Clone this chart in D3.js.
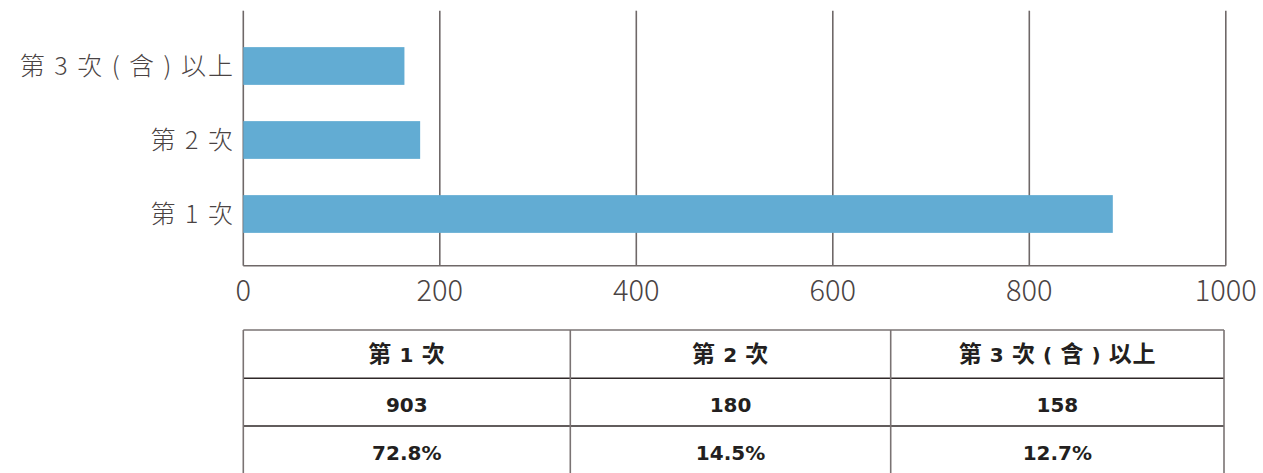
<!DOCTYPE html>
<html>
<head>
<meta charset="utf-8">
<script src="https://cdn.jsdelivr.net/npm/d3@7"></script>
<style>
  html, body { margin: 0; padding: 0; background: #fff; }
  svg { display: block; }
</style>
</head>
<body>
<svg id="chart" width="1263" height="473"></svg>
<script>
// ---- data ----
const categories = ["第 1 次", "第 2 次", "第 3 次 ( 含 ) 以上"];
const barValues = [885, 180, 164];          // bar lengths as drawn
const xTicks = [0, 200, 400, 600, 800, 1000];
const tableHeaders = ["第 1 次", "第 2 次", "第 3 次 ( 含 ) 以上"];
const tableCounts = ["903", "180", "158"];
const tablePercents = ["72.8%", "14.5%", "12.7%"];

// ---- layout ----
const svg = d3.select("#chart");
const axisFont = "'Noto Sans CJK TC', 'Noto Sans CJK SC', 'Noto Sans', sans-serif";
const latinBold = "'DejaVu Sans', 'Liberation Sans', sans-serif";
const cjkBold = "'Noto Sans CJK TC', 'Noto Sans CJK SC', sans-serif";
const textColor = "#4a4343";
const gridColor = "#6f6868";

const x = d3.scaleLinear().domain([0, 1000]).range([243.3, 1225.8]);
const y = d3.scaleBand()
  .domain(categories.slice().reverse())
  .range([29, 251])
  .paddingInner(0.49)
  .paddingOuter(0.245);

const gridTop = 10.7, axisY = 265.7;

// gridlines
svg.append("g").selectAll("line")
  .data(xTicks)
  .join("line")
  .attr("x1", d => x(d)).attr("x2", d => x(d))
  .attr("y1", gridTop).attr("y2", axisY)
  .attr("stroke", gridColor).attr("stroke-width", 1.6);

// bottom axis line
svg.append("line")
  .attr("x1", x(0)).attr("x2", x(1000))
  .attr("y1", axisY).attr("y2", axisY)
  .attr("stroke", gridColor).attr("stroke-width", 1.6);

// tick labels
svg.append("g").selectAll("text")
  .data(xTicks)
  .join("text")
  .attr("x", d => x(d))
  .attr("y", 300.5)
  .attr("text-anchor", "middle")
  .attr("font-family", axisFont)
  .attr("font-weight", 300)
  .attr("font-size", 29)
  .attr("fill", textColor)
  .text(d => d);

// bars
svg.append("g").selectAll("rect")
  .data(categories.map((c, i) => ({c, v: barValues[i]})))
  .join("rect")
  .attr("x", x(0))
  .attr("y", d => y(d.c))
  .attr("width", d => x(d.v) - x(0))
  .attr("height", y.bandwidth())
  .attr("fill", "#62acd3");

// category labels
svg.append("g").selectAll("text")
  .data(categories)
  .join("text")
  .attr("x", 235)
  .attr("y", d => y(d) + y.bandwidth() / 2)
  .attr("dy", "0.34em")
  .attr("text-anchor", "end")
  .attr("font-family", axisFont)
  .attr("font-weight", 300)
  .attr("font-size", 25)
  .attr("letter-spacing", 2)
  .attr("fill", textColor)
  .text(d => d);

// ---- table ----
const colEdges = [243.3, 570.3, 890.7, 1224];
const rowEdges = [330, 378.3, 426, 474];
const rows = [tableHeaders, tableCounts, tablePercents];
const tg = svg.append("g");

// horizontal lines
tg.selectAll("line.h")
  .data(rowEdges)
  .join("line")
  .attr("class", "h")
  .attr("x1", colEdges[0]).attr("x2", colEdges[colEdges.length - 1])
  .attr("y1", d => d).attr("y2", d => d)
  .attr("stroke", (d, i) => i === 0 ? "#7a7373" : "#2e2727")
  .attr("stroke-width", 1.6);

// vertical lines
tg.selectAll("line.v")
  .data(colEdges)
  .join("line")
  .attr("class", "v")
  .attr("x1", d => d).attr("x2", d => d)
  .attr("y1", rowEdges[0]).attr("y2", 473)
  .attr("stroke", "#7a7373")
  .attr("stroke-width", 1.6);

// split text into CJK / non-CJK runs so each uses its own font
function runs(s) {
  const out = [];
  const re = /[\u3400-\u9fff]+|[^\u3400-\u9fff]+/g;
  let m;
  while ((m = re.exec(s))) out.push({t: m[0], cjk: /[\u3400-\u9fff]/.test(m[0])});
  return out;
}

// cell texts
rows.forEach((row, r) => {
  const t = tg.append("g").selectAll("text")
    .data(row)
    .join("text")
    .attr("x", (d, i) => (colEdges[i] + colEdges[i + 1]) / 2)
    .attr("y", (rowEdges[r] + rowEdges[r + 1]) / 2 + (r === 0 ? 8.3 : 10))
    .attr("text-anchor", "middle")
    .attr("font-weight", "bold")
    .attr("letter-spacing", r === 0 ? 0.6 : 0)
    .attr("fill", "#231f20");
  t.selectAll("tspan")
    .data(d => runs(d))
    .join("tspan")
    .attr("font-family", d => d.cjk ? cjkBold : latinBold)
    .attr("font-size", d => d.cjk ? 23 : 20)
    .text(d => d.t);
});
</script>
</body>
</html>
